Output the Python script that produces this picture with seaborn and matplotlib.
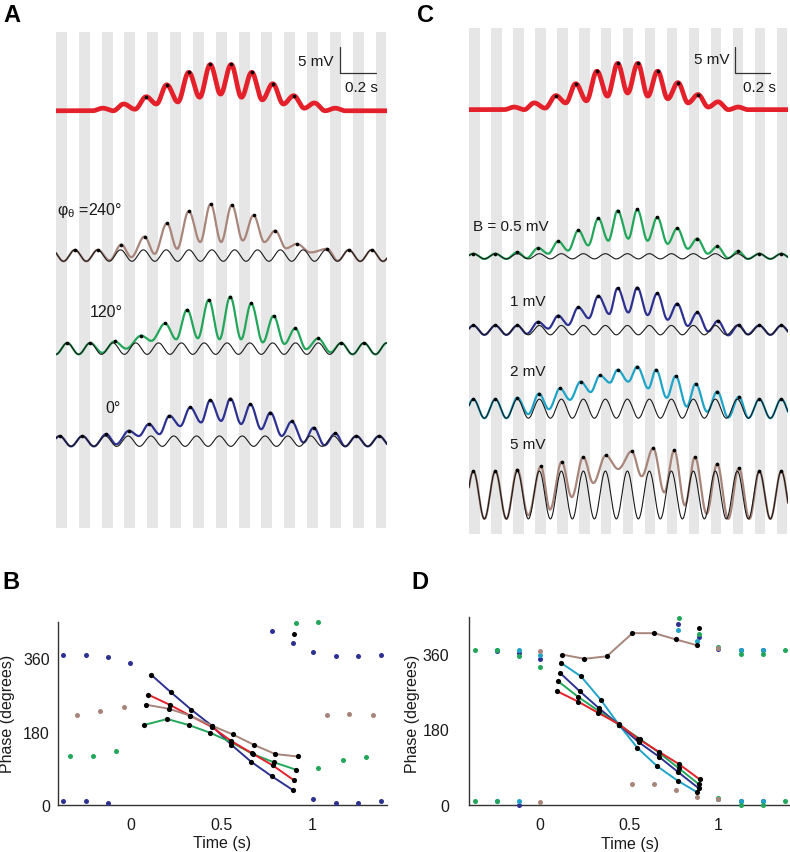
import numpy as np
import matplotlib
matplotlib.use("Agg")
import matplotlib.pyplot as plt
import seaborn as sns

sns.set_theme(style="white")
plt.rcParams['font.family'] = ['Liberation Sans', 'DejaVu Sans']
plt.rcParams['text.color'] = '#1a1a1a'
plt.rcParams['axes.labelcolor'] = '#1a1a1a'
plt.rcParams['xtick.color'] = '#1a1a1a'
plt.rcParams['ytick.color'] = '#1a1a1a'

# ---------------------------------------------------------------- data
THETA_PERIOD = 0.1255          # s (theta cycle, read from stripe spacing)
stripe_start = -0.41           # s, first grey half-cycle
n_stripes = 15
stripe_width = 0.06

# average (red) trace: extrema times (s) and values (mV above baseline)
red_t = [-0.21, -0.152, -0.095, -0.038, 0.024, 0.086, 0.142, 0.199, 0.26, 0.32, 0.38, 0.438,
         0.495, 0.553, 0.61, 0.666, 0.724, 0.782, 0.84, 0.897, 0.955, 1.011, 1.07, 1.126, 1.18]
red_v = [0.0, 0.5, 0.0, 1.3, 0.3, 2.7, 1.3, 5.0, 1.7, 7.4, 2.6, 8.9,
         3.2, 8.9, 2.6, 7.4, 2.1, 5.2, 1.3, 2.9, 0.5, 1.5, 0.0, 0.5, 0.0]

# panel A: theta phase offsets
A_labels = ["240°", "120°", "0°"]
A_theta_first = [-0.306, -0.348, -0.39]   # time of first theta peak (s)
A_theta_amp = [1.1, 1.1, 1.0]             # mV

a240_t = [-0.115, -0.051, 0.004, 0.077, 0.132, 0.200, 0.256, 0.320, 0.383, 0.440, 0.498, 0.557,
          0.617, 0.676, 0.736, 0.795, 0.855, 0.914, 0.99, 1.081, 1.14]
a240_v = [-0.9, 2.1, -0.3, 3.65, 0.33, 6.23, 1.3, 8.54, 2.6, 9.94, 2.6, 9.75,
          2.9, 7.75, 2.6, 4.8, 1.4, 2.25, 0.6, 1.3, -1.0]

a120_t = [-0.155, -0.088, -0.024, 0.059, 0.114, 0.19, 0.251, 0.311, 0.37, 0.43, 0.489, 0.548,
          0.608, 0.663, 0.727, 0.786, 0.846, 0.905, 0.965, 1.031, 1.10]
a120_v = [-0.8, 1.4, 0.0, 2.5, 1.5, 4.85, 1.8, 7.5, 2.0, 9.4, 1.8, 10.0,
          1.8, 8.7, 1.2, 6.3, 0.9, 3.9, -0.1, 1.96, -0.7]

a0_t = [-0.134, -0.079, -0.009, 0.046, 0.101, 0.159, 0.214, 0.273, 0.328, 0.388, 0.438, 0.498,
        0.549, 0.608, 0.659, 0.718, 0.769, 0.831, 0.886, 0.951, 1.007, 1.066, 1.126, 1.18]
a0_v = [1.35, -0.6, 2.0, 1.0, 3.3, 1.35, 4.9, 2.9, 6.5, 3.6, 7.9, 3.9,
        8.2, 3.3, 7.1, 2.3, 5.5, 1.0, 3.8, -0.25, 2.6, -0.8, 1.5, -1.0]

# panel C: theta amplitude B
C_labels = ["B = 0.5 mV", "1 mV", "2 mV", "5 mV"]
C_theta_first = -0.385
C_theta_amp = [0.5, 0.9, 1.83, 4.6]

c05_t = [-0.134, -0.081, -0.015, 0.042, 0.099, 0.156, 0.214, 0.27, 0.328, 0.385, 0.438, 0.499,
         0.55, 0.609, 0.664, 0.723, 0.778, 0.838, 0.892, 0.952, 1.006, 1.069, 1.126, 1.18]
c05_v = [0.8, -0.35, 1.6, 0.5, 2.9, 1.1, 5.0, 2.1, 7.3, 3.0, 8.8, 3.4,
         9.0, 3.0, 7.5, 2.4, 5.4, 1.45, 3.4, 0.5, 1.9, -0.35, 1.0, -0.5]

c1_t = [-0.134, -0.08, -0.015, 0.042, 0.099, 0.156, 0.214, 0.273, 0.328, 0.39, 0.438, 0.499,
        0.55, 0.609, 0.664, 0.723, 0.778, 0.838, 0.892, 0.955, 1.01, 1.069, 1.128, 1.18]
c1_v = [0.9, -0.7, 1.6, 0.3, 2.8, 1.0, 4.4, 2.3, 6.6, 3.1, 8.1, 3.4,
        8.2, 2.9, 7.1, 2.0, 5.1, 0.8, 3.4, -0.25, 1.8, -1.0, 1.0, -0.8]

c2_t = [-0.134, -0.072, -0.011, 0.046, 0.109, 0.166, 0.227, 0.284, 0.337, 0.394, 0.438, 0.499,
        0.55, 0.613, 0.657, 0.718, 0.769, 0.832, 0.883, 0.949, 1.006, 1.069, 1.13, 1.185]
c2_v = [2.1, -1.06, 2.9, -0.1, 3.9, 1.7, 5.2, 3.2, 6.4, 5.0, 7.5, 5.2,
        8.1, 3.9, 7.5, 2.1, 6.3, 0.4, 4.8, -0.6, 3.3, -1.7, 2.3, -1.8]

c5_t = [-0.134, -0.072, 0.0, 0.052, 0.119, 0.176, 0.242, 0.299, 0.37, 0.442, 0.518, 0.575,
        0.641, 0.704, 0.761, 0.822, 0.879, 0.946, 1.006, 1.069, 1.13, 1.19]
c5_v = [4.9, -3.9, 5.5, -2.8, 6.4, -0.4, 7.3, 2.3, 7.6, 5.0, 8.4, 3.6,
        9.0, 0.5, 8.6, -2.0, 7.3, -3.6, 6.0, -4.6, 5.2, -4.6]

# panel B: peak phase (deg) vs time (s)
B_red_t = [0.095, 0.214, 0.328, 0.445, 0.553, 0.667, 0.782, 0.897]
B_red_ph = [271, 246, 219, 192, 157, 127, 97, 61]
B_blue_t = [0.114, 0.220, 0.333, 0.445, 0.553, 0.663, 0.778, 0.891]
B_blue_ph = [319, 277, 234, 195, 148, 106, 70, 37]
B_brown_t = [0.086, 0.211, 0.328, 0.445, 0.562, 0.681, 0.795, 0.92]
B_brown_ph = [246, 236, 219, 195, 173, 147, 125, 119]
B_green_t = [0.071, 0.201, 0.321, 0.438, 0.553, 0.672, 0.786, 0.907]
B_green_ph = [196, 211, 196, 177, 154, 125, 105, 87]

B_blue_sc_t = [-0.372, -0.248, -0.124, -0.002, -0.372, -0.248, -0.124, 0.778, 0.891,
               1.005, 1.129, 1.251, 1.379, 1.005, 1.129, 1.251, 1.379]
B_blue_sc_ph = [368, 368, 363, 348, 9, 9, 4, 428, 397, 375, 365, 365, 368, 15, 6, 6, 9]
B_brown_sc_t = [-0.295, -0.17, -0.038, 1.081, 1.203, 1.331]
B_brown_sc_ph = [221, 230, 241, 221, 224, 221]
B_green_sc_t = [-0.335, -0.207, -0.08, 1.033, 1.167, 1.295, 0.907, 1.033]
B_green_sc_ph = [121, 121, 133, 90, 110, 117, 446, 449]
B_black_sc_t = [0.896]
B_black_sc_ph = [420]

# panel D
D_green_t = [0.103, 0.215, 0.332, 0.443, 0.562, 0.670, 0.781, 0.891]
D_green_ph = [294, 257, 223, 191, 157, 124, 87, 50]
D_blue_t = [0.113, 0.222, 0.332, 0.443, 0.556, 0.668, 0.777, 0.891]
D_blue_ph = [314, 271, 230, 191, 149, 115, 78, 40]
D_cyan_t = [0.118, 0.230, 0.340, 0.443, 0.547, 0.659, 0.773, 0.884]
D_cyan_ph = [338, 306, 251, 191, 136, 92, 58, 30]
D_brown_t = [0.125, 0.249, 0.375, 0.519, 0.642, 0.764, 0.884]
D_brown_ph = [358, 348, 354, 409, 409, 394, 380]

D_green_sc_t = [-0.369, -0.243, -0.117, 0.0, -0.369, -0.243, 0.781, 0.891,
                1.002, 1.128, 1.252, 1.376, 1.002, 1.128, 1.252, 1.376]
D_green_sc_ph = [368, 368, 354, 328, 9, 9, 445, 408, 376, 360, 360, 368, 17, 0, 0, 9]
D_blue_sc_t = [-0.243, -0.117, 0.0, -0.117, 0.777, 0.891, 1.002, 1.128, 1.252, 1.002, 1.128, 1.252]
D_blue_sc_ph = [366, 362, 347, 0, 432, 400, 372, 368, 368, 14, 9, 9]
D_cyan_sc_t = [-0.243, -0.117, 0.0, -0.243, -0.117, 0.773, 0.884, 1.002, 1.128, 1.252, 1.002, 1.128, 1.252]
D_cyan_sc_ph = [368, 368, 358, 9, 10, 417, 390, 374, 368, 368, 14, 9, 9]
D_brown_sc_t = [0.0, 0.0, 0.519, 0.642, 0.764, 0.884, 1.002, 1.002]
D_brown_sc_ph = [366, 6, 50, 50, 36, 20, 373, 14]
D_black_sc_t = [0.895]
D_black_sc_ph = [421]

# ---------------------------------------------------------------- style
RED = "#e4202a"
BROWN = "#a8857b"
GREEN = "#22a65a"
NAVY = "#2d3190"
CYAN = "#1ea4c8"
STRIPE = "#e6e6e6"
INK = "#1a1a1a"

W, H = 790, 853
fig = plt.figure(figsize=(W / 100, H / 100), dpi=100)


def add_ax(l, t, r, b):
    return fig.add_axes([l / W, 1 - b / H, (r - l) / W, (b - t) / H])


def ftext(x, y, s, **kw):
    fig.text(x / W, 1 - y / H, s, **kw)


def smooth(tk, vk, t):
    tk = np.asarray(tk, float)
    vk = np.asarray(vk, float)
    idx = np.clip(np.searchsorted(tk, t, side='right') - 1, 0, len(tk) - 2)
    t0, t1 = tk[idx], tk[idx + 1]
    u = np.clip((t - t0) / (t1 - t0), 0, 1)
    return vk[idx] + (vk[idx + 1] - vk[idx]) * (1 - np.cos(np.pi * u)) / 2


def theta_ext(first, amp):
    k = np.arange(-6, 36)
    return first + k * THETA_PERIOD / 2, np.where(k % 2 == 0, amp, -amp).astype(float)


def merge(th_t, th_v, dt, dv, gap=0.03):
    dt = np.asarray(dt, float)
    dv = np.asarray(dv, float)
    keep = (th_t < dt[0] - gap) | (th_t > dt[-1] + gap)
    t = np.concatenate([th_t[keep], dt])
    v = np.concatenate([th_v[keep], dv])
    o = np.argsort(t)
    return t[o], v[o]


def peak_idx(v):
    v = np.asarray(v)
    return [i for i in range(1, len(v) - 1) if v[i] > v[i - 1] and v[i] > v[i + 1]]


tgrid = np.linspace(-0.42, 1.42, 2600)
XL = (-0.41, 1.41)


def stripes(ax):
    for k in range(n_stripes):
        s0 = stripe_start + k * THETA_PERIOD
        ax.axvspan(s0, s0 + stripe_width, color=STRIPE, lw=0, zorder=0)


def draw_red(ax, off):
    y = smooth(red_t, red_v, tgrid) + off
    sns.lineplot(x=tgrid, y=y, ax=ax, color=RED, lw=3.4, estimator=None, zorder=2)
    pk = [i for i in peak_idx(red_v) if red_v[i] > 2]
    sns.scatterplot(x=[red_t[i] for i in pk], y=[red_v[i] + off for i in pk], ax=ax,
                    color='black', s=7, linewidth=0, zorder=4)


def draw_trace(ax, first, amp, dt, dv, off, col):
    th_t, th_v = theta_ext(first, amp)
    mt, mv = merge(th_t, th_v, dt, dv)
    yc = smooth(mt, mv, tgrid) + off
    yt = smooth(th_t, th_v, tgrid) + off
    sns.lineplot(x=tgrid, y=yc, ax=ax, color=col, lw=1.6, estimator=None, zorder=2)
    sns.lineplot(x=tgrid, y=yt, ax=ax, color=INK, lw=0.8, estimator=None, zorder=3)
    pk = [i for i in peak_idx(mv) if XL[0] + 0.01 < mt[i] < XL[1] - 0.01]
    sns.scatterplot(x=mt[pk], y=mv[pk] + off, ax=ax, color='black', s=7, linewidth=0, zorder=4)


def scale_bar(ax, x0, y0):
    ax.plot([x0, x0], [y0, y0 + 5], color='#333333', lw=0.9, zorder=5)
    ax.plot([x0, x0 + 0.2], [y0, y0], color='#333333', lw=0.9, zorder=5)


# ---------------------------------------------------------------- panel A
axA = add_ax(56, 33, 387, 529)
stripes(axA)
draw_red(axA, 80.25)
A_sets = [(a240_t, a240_v, 52.4, BROWN), (a120_t, a120_v, 34.5, GREEN), (a0_t, a0_v, 16.7, NAVY)]
for (dt, dv, off, col), first, amp in zip(A_sets, A_theta_first, A_theta_amp):
    draw_trace(axA, first, amp, dt, dv, off, col)
scale_bar(axA, 1.15, 87.5)
axA.set_xlim(*XL)
axA.set_ylim(0, 95.4)
axA.axis('off')

# ---------------------------------------------------------------- panel C
axC = add_ax(469, 29, 788, 535)
stripes(axC)
draw_red(axC, 81.6)
C_sets = [(c05_t, c05_v, 53.4, GREEN), (c1_t, c1_v, 39.2, NAVY),
          (c2_t, c2_v, 24.1, CYAN), (c5_t, c5_v, 7.5, BROWN)]
for (dt, dv, off, col), amp in zip(C_sets, C_theta_amp):
    draw_trace(axC, C_theta_first, amp, dt, dv, off, col)
scale_bar(axC, 1.107, 88.65)
axC.set_xlim(*XL)
axC.set_ylim(0, 97.3)
axC.axis('off')


# ---------------------------------------------------------------- phase plots
def phase_axes(ax, xl, yl, ypad):
    ax.set_xlim(*xl)
    ax.set_ylim(*yl)
    ax.set_xticks([0, 0.5, 1])
    ax.set_xticklabels(["0", "0.5", "1"])
    ax.set_yticks([0, 180, 360])
    ax.set_yticklabels(["0", "180", "360"])
    ax.tick_params(axis='x', length=0, labelsize=11.5, pad=8.5)
    ax.tick_params(axis='y', length=0, labelsize=11.5, pad=ypad)
    sns.despine(ax=ax)
    for s in ['left', 'bottom']:
        ax.spines[s].set_color('#333333')
        ax.spines[s].set_linewidth(1.0)
    ax.set_xlabel("")
    ax.set_ylabel("")


def line_with_dots(ax, t, ph, col):
    sns.lineplot(x=t, y=ph, ax=ax, color=col, lw=1.4, estimator=None, zorder=2)
    sns.scatterplot(x=t, y=ph, ax=ax, color='black', s=14, linewidth=0, zorder=4, clip_on=False)


def dots(ax, t, ph, col):
    sns.scatterplot(x=t, y=ph, ax=ax, color=col, s=13, linewidth=0, zorder=3, clip_on=False)


axB = add_ax(58, 623, 387, 806)
dots(axB, B_blue_sc_t, B_blue_sc_ph, NAVY)
dots(axB, B_brown_sc_t, B_brown_sc_ph, BROWN)
dots(axB, B_green_sc_t, B_green_sc_ph, GREEN)
dots(axB, B_black_sc_t, B_black_sc_ph, 'black')
line_with_dots(axB, B_blue_t, B_blue_ph, NAVY)
line_with_dots(axB, B_green_t, B_green_ph, GREEN)
line_with_dots(axB, B_red_t, B_red_ph, RED)
line_with_dots(axB, B_brown_t, B_brown_ph, BROWN)
phase_axes(axB, (-0.40, 1.41), (0, 449), 5.8)

axD = add_ax(469, 618, 790, 806)
dots(axD, D_blue_sc_t, D_blue_sc_ph, NAVY)
dots(axD, D_cyan_sc_t, D_cyan_sc_ph, CYAN)
dots(axD, D_green_sc_t, D_green_sc_ph, GREEN)
dots(axD, D_brown_sc_t, D_brown_sc_ph, BROWN)
dots(axD, D_black_sc_t, D_black_sc_ph, 'black')
line_with_dots(axD, D_cyan_t, D_cyan_ph, CYAN)
line_with_dots(axD, D_blue_t, D_blue_ph, NAVY)
line_with_dots(axD, D_green_t, D_green_ph, GREEN)
line_with_dots(axD, B_red_t, B_red_ph, RED)
line_with_dots(axD, D_brown_t, D_brown_ph, BROWN)
phase_axes(axD, (-0.40, 1.405), (0, 447.5), 14)

# ---------------------------------------------------------------- texts
for lab, x, y in [("A", 12, 16), ("C", 425.5, 16), ("B", 11, 583), ("D", 420, 583)]:
    ftext(x, y, lab, fontsize=17, fontweight='bold', ha='center', va='center', color='black')

ftext(57, 211, r"$\mathregular{φ_θ}$ =240°", fontsize=11.5, ha='left', va='center')
ftext(106, 312.5, "120°", fontsize=11.5, ha='center', va='center')
ftext(113, 408.5, "0°", fontsize=11.5, ha='center', va='center')
ftext(334, 62.5, "5 mV", fontsize=11, ha='right', va='center')
ftext(361.5, 88.5, "0.2 s", fontsize=11, ha='center', va='center')
ftext(729, 60, "5 mV", fontsize=11, ha='right', va='center')
ftext(759, 87.5, "0.2 s", fontsize=11, ha='center', va='center')
ftext(473, 227.5, C_labels[0], fontsize=11, ha='left', va='center')
ftext(527.5, 302.5, C_labels[1], fontsize=11, ha='center', va='center')
ftext(527.5, 372, C_labels[2], fontsize=11, ha='center', va='center')
ftext(527.5, 445, C_labels[3], fontsize=11, ha='center', va='center')

ftext(222, 844, "Time (s)", fontsize=11.5, ha='center', va='center')
ftext(630, 844.5, "Time (s)", fontsize=11.5, ha='center', va='center')
ftext(8, 714, "Phase (degrees)", fontsize=11.5, ha='center', va='center', rotation=90)
ftext(413, 714, "Phase (degrees)", fontsize=11.5, ha='center', va='center', rotation=90)

fig.savefig("out.png", dpi=100)
